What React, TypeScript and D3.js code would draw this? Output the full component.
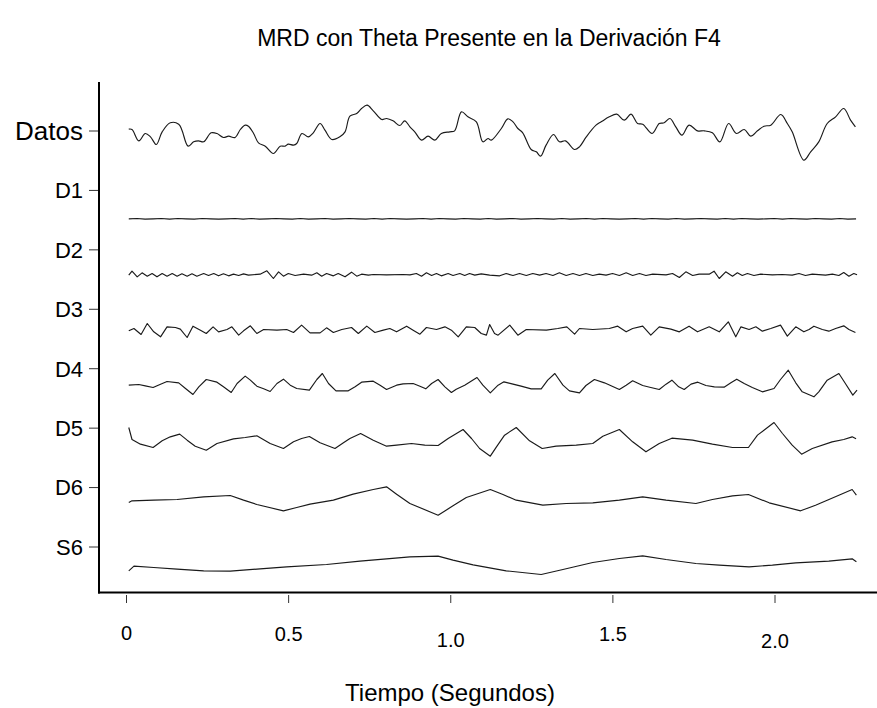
import React from "react";
import * as d3 from "d3";

type P = [number, number];

const channelNames = ["Datos", "D1", "D2", "D3", "D4", "D5", "D6", "S6"];
const xTickValues = [0, 0.5, 1, 1.5, 2];
const xTickLabels = ["0", "0.5", "1.0", "1.5", "2.0"];

// amplitude units (µV-like), time in seconds
const datos: P[] = [
  [0.007,3],[0.017,2],[0.038,-32],[0.058,-10],[0.074,-20],[0.092,-43],[0.110,-5],[0.135,22],[0.161,18],[0.171,0],
  [0.190,-48],[0.207,-35],[0.222,-32],[0.238,-35],[0.261,-8],[0.279,-10],[0.299,-22],[0.315,-18],[0.335,-22],[0.351,2],
  [0.366,15],[0.376,12],[0.392,-10],[0.407,-38],[0.428,-48],[0.453,-70],[0.474,-48],[0.489,-48],[0.499,-42],[0.515,-45],
  [0.525,-40],[0.541,-10],[0.561,-20],[0.576,-8],[0.597,20],[0.612,0],[0.633,-28],[0.658,-20],[0.674,-5],[0.689,42],
  [0.710,50],[0.725,65],[0.742,75],[0.761,58],[0.787,32],[0.802,35],[0.822,28],[0.843,14],[0.858,28],[0.874,10],
  [0.889,-5],[0.910,-30],[0.930,-18],[0.951,-30],[0.971,-10],[0.997,-5],[1.012,-2],[1.033,55],[1.053,40],[1.079,25],
  [1.099,-35],[1.115,-25],[1.125,-30],
  [1.156,5],[1.176,34],[1.192,25],[1.207,5],[1.222,-8],[1.248,-58],[1.264,-65],[1.277,-78],[1.294,-45],[1.317,-13],
  [1.335,-35],[1.354,-32],[1.382,-58],[1.397,-50],[1.418,-20],[1.448,15],[1.464,25],[1.489,40],[1.512,48],[1.535,30],
  [1.556,48],[1.576,20],[1.592,18],[1.621,-10],[1.643,20],[1.658,22],[1.676,35],[1.694,10],[1.713,-15],[1.735,15],
  [1.761,-2],[1.782,-2],[1.807,-8],[1.830,-35],[1.857,20],[1.881,-10],[1.905,2],[1.925,-18],[1.946,-2],[1.966,12],
  [1.987,15],[2.018,47],[2.038,20],[2.053,-5],[2.089,-90],[2.110,-65],[2.135,-35],[2.161,20],[2.187,40],[2.212,65],
  [2.233,30],[2.248,10],
];

// D1: uniformly sampled, very small amplitude
const d1Values = [
  0,1,-1,0,1,-1,1,0,-1,1,0,-1,0,1,-1,1,-1,0,1,0,-1,1,-1,0,1,-1,0,1,0,-1,
  1,-1,1,0,-1,0,1,-1,1,0,-1,1,0,-1,1,-1,0,1,-1,0,1,0,-1,1,-1,0,1,-1,1,0,
  -1,0,1,-1,1,0,-1,1,-1,0,1,0,-1,1,-1,1,0,-1,0,1,-1,1,0,-1,1,0,-1,1,-1,0,
];
const d1Span: [number, number] = [0.007, 2.25];

const d2: P[] = [
  [0.007,-3],[0.017,9],[0.033,-8],[0.048,4],[0.064,-6],[0.079,2],[0.094,-8],[0.110,2],[0.125,-6],[0.141,2],
  [0.156,-6],[0.171,1],[0.187,-6],[0.202,1],[0.217,-6],[0.238,2],[0.253,-4],[0.269,2],[0.284,-5],[0.299,1],
  [0.315,-5],[0.330,0],[0.346,-4],[0.361,1],[0.376,-3],[0.412,0],[0.433,10],[0.453,-13],[0.469,7],[0.484,-6],
  [0.499,2],[0.520,-4],[0.546,0],[0.571,-3],[0.587,4],[0.602,-6],[0.617,2],[0.638,-5],[0.653,2],[0.674,-8],
  [0.694,6],[0.710,-6],[0.725,0],[0.746,-3],[0.761,-1],[0.802,-2],[0.853,-1],[0.874,-2],[0.894,2],[0.910,-6],
  [0.925,4],[0.941,-4],[0.956,2],[0.971,-5],[0.992,2],[1.007,-4],[1.028,2],[1.043,-4],[1.058,2],[1.074,-3],
  [1.094,1],[1.120,-3],[1.151,-5],[1.171,2],[1.192,-4],[1.212,2],[1.233,-4],[1.253,2],[1.274,-3],[1.294,2],
  [1.315,-4],[1.335,4],[1.356,-4],[1.377,2],[1.397,-4],[1.417,2],[1.438,-4],[1.458,0],[1.479,-3],[1.499,2],
  [1.520,-4],[1.541,4],[1.561,-4],[1.582,2],[1.602,-4],[1.623,0],[1.664,-2],[1.684,2],[1.705,-10],[1.725,7],
  [1.746,-4],[1.766,0],[1.797,0],[1.812,9],[1.828,-13],[1.848,7],[1.869,-6],[1.884,4],[1.899,-4],[1.915,2],
  [1.935,-4],[1.956,0],[1.992,-2],[2.022,-1],[2.053,-3],[2.074,2],[2.094,-4],[2.115,0],[2.156,-3],[2.177,0],
  [2.197,-4],[2.212,5],[2.228,-6],[2.243,2],[2.253,-2],
];

const d3s: P[] = [
  [0.007,-2],[0.023,5],[0.045,-13],[0.064,20],[0.084,-5],[0.105,-20],[0.125,10],[0.151,8],[0.166,3],[0.187,-22],
  [0.205,12],[0.228,0],[0.246,-10],[0.267,10],[0.284,-5],[0.310,2],[0.325,10],[0.346,-15],[0.361,-2],[0.382,13],
  [0.402,-10],[0.423,2],[0.464,0],[0.494,2],[0.515,-7],[0.540,15],[0.566,-8],[0.597,-8],[0.617,7],[0.638,-7],
  [0.664,2],[0.694,8],[0.715,-10],[0.741,12],[0.766,-7],[0.792,0],[0.812,5],[0.833,-5],[0.864,12],[0.884,0],
  [0.905,-12],[0.925,8],[0.956,2],[0.982,10],[1.002,0],[1.023,-20],[1.048,10],[1.074,8],[1.094,-10],[1.110,-15],
  [1.120,17],[1.135,-10],[1.146,-15],[1.182,15],[1.207,-15],[1.233,2],[1.295,0],[1.330,5],[1.358,10],[1.382,-12],
  [1.397,5],[1.438,2],[1.489,5],[1.515,12],[1.541,-5],[1.561,5],[1.592,12],[1.617,-15],[1.643,10],[1.679,3],
  [1.705,-5],[1.735,12],[1.761,-5],[1.797,10],[1.828,-5],[1.856,25],[1.879,-20],[1.895,10],[1.920,2],[1.941,10],
  [1.961,-3],[1.987,5],[2.017,15],[2.038,-18],[2.064,10],[2.089,-5],[2.105,2],[2.120,12],[2.146,2],[2.166,-3],
  [2.187,5],[2.212,13],[2.228,2],[2.248,-7],
];

const d4: P[] = [
  [0.007,0],[0.038,2],[0.058,-2],[0.082,-7],[0.105,3],[0.125,11],[0.161,7],[0.182,-10],[0.205,-28],[0.223,-5],
  [0.246,17],[0.279,9],[0.299,-5],[0.323,-22],[0.341,5],[0.366,27],[0.382,15],[0.402,-3],[0.423,-11],[0.443,-19],
  [0.464,5],[0.484,18],[0.505,0],[0.525,-10],[0.564,-15],[0.587,17],[0.604,35],[0.623,5],[0.646,-17],[0.684,-17],
  [0.705,-5],[0.725,9],[0.761,12],[0.782,0],[0.802,-13],[0.833,0],[0.853,4],[0.884,5],[0.905,-3],[0.923,-11],
  [0.941,5],[0.961,17],[0.982,-5],[1.002,-22],[1.017,-12],[1.043,0],[1.081,23],[1.099,0],[1.122,-23],
  [1.146,0],[1.164,10],[1.192,3],[1.217,-3],[1.248,-11],[1.279,-11],[1.299,15],[1.321,35],[1.346,0],[1.366,-17],
  [1.397,-23],[1.417,-1],[1.443,17],[1.474,7],[1.520,-13],[1.541,0],[1.561,13],[1.592,-1],[1.617,-7],[1.643,-13],
  [1.664,3],[1.682,15],[1.703,-5],[1.720,-13],[1.741,3],[1.762,9],[1.787,-1],[1.813,-5],[1.843,-6],[1.864,7],
  [1.882,18],[1.905,5],[1.930,-7],[1.961,-20],[1.997,-10],[2.017,17],[2.041,45],[2.064,7],[2.084,-20],[2.120,-35],
  [2.135,-20],[2.161,15],[2.197,35],[2.217,5],[2.240,-30],[2.253,-15],
];

const d5: P[] = [
  [0.007,43],[0.017,7],[0.043,-7],[0.082,-17],[0.110,3],[0.135,15],[0.164,23],[0.187,5],[0.212,-13],[0.246,-25],
  [0.279,-5],[0.330,9],[0.366,13],[0.402,18],[0.443,-5],[0.484,-20],[0.515,0],[0.540,10],[0.564,16],[0.597,-3],
  [0.643,-20],[0.669,-3],[0.689,10],[0.722,25],[0.761,5],[0.802,-13],[0.833,-10],[0.879,-5],[0.920,-10],[0.961,-11],
  [0.992,10],[1.038,37],[1.064,10],[1.089,-20],[1.122,-43],[1.141,-15],[1.166,20],[1.202,43],[1.243,3],[1.282,-20],
  [1.325,-13],[1.387,-10],[1.438,-5],[1.469,17],[1.520,37],[1.561,0],[1.602,-30],[1.643,-5],[1.682,11],[1.746,5],
  [1.807,-7],[1.869,-17],[1.918,-17],[1.946,20],[1.997,58],[2.023,25],[2.053,-10],[2.082,-37],[2.115,-20],[2.176,0],
  [2.212,7],[2.238,15],[2.250,9],
];

const d6: P[] = [
  [0.007,-2],[0.017,3],[0.084,5],[0.156,7],[0.238,15],[0.320,19],[0.361,5],[0.402,-8],[0.484,-27],[0.525,-17],
  [0.566,-7],[0.638,5],[0.699,23],[0.761,37],[0.802,45],[0.833,23],[0.874,-5],[0.961,-40],[1.007,-12],[1.048,13],
  [1.122,37],[1.161,22],[1.202,5],[1.284,-10],[1.356,-5],[1.438,-3],[1.520,5],[1.592,15],[1.664,5],[1.756,-5],
  [1.807,7],[1.869,18],[1.918,22],[1.982,-3],[2.079,-27],[2.125,-10],[2.197,20],[2.238,37],[2.251,20],
];

const s6: P[] = [
  [0.007,-12],[0.023,2],[0.084,-2],[0.156,-7],[0.238,-12],[0.320,-13],[0.412,-6],[0.494,0],[0.617,7],[0.720,17],
  [0.802,24],[0.874,30],[0.961,32],[1.007,20],[1.069,6],[1.171,-12],[1.279,-23],[1.346,-8],[1.438,13],[1.520,25],
  [1.592,33],[1.664,22],[1.756,10],[1.828,5],[1.920,0],[1.992,5],[2.064,12],[2.166,17],[2.238,24],[2.251,15],
];

// baseline of each trace, in the same amplitude units
const traceBaselines = [1387, 1121, 955, 787, 622, 452, 272, 77];

export default function App() {
  const W = 877;
  const H = 708;
  const x = d3.scaleLinear().domain([0, 2]).range([126.5, 775]);
  const y = d3.scaleLinear().domain([0, 1530]).range([592.5, 82.5]);
  const labelY = d3.scalePoint<string>().domain(channelNames).range([131, 547]);

  const d1: P[] = d1Values.map((v, i) => [
    d1Span[0] + (i * (d1Span[1] - d1Span[0])) / (d1Values.length - 1),
    v,
  ]);

  const series: { data: P[]; curve: d3.CurveFactory }[] = [
    { data: datos, curve: d3.curveCatmullRom.alpha(0.5) },
    { data: d1, curve: d3.curveLinear },
    { data: d2, curve: d3.curveLinear },
    { data: d3s, curve: d3.curveLinear },
    { data: d4, curve: d3.curveLinear },
    { data: d5, curve: d3.curveLinear },
    { data: d6, curve: d3.curveLinear },
    { data: s6, curve: d3.curveLinear },
  ];

  const labelDy = [0, 1, 7, 1, 8];
  const font = "Liberation Sans, Arial, sans-serif";

  return (
    <svg
      width={W}
      height={H}
      style={{ position: "absolute", left: 0, top: 0, background: "#fff" }}
      fontFamily={font}
    >
      <rect width={W} height={H} fill="#fff" />
      <text x={489} y={46} textAnchor="middle" fontSize={23} fill="#000">
        MRD con Theta Presente en la Derivación F4
      </text>

      {series.map((s, i) => {
        const line = d3
          .line<P>()
          .x((d) => x(d[0]))
          .y((d) => y(traceBaselines[i] + d[1]))
          .curve(s.curve);
        return (
          <path
            key={i}
            d={line(s.data) || ""}
            fill="none"
            stroke="#1a1a1a"
            strokeWidth={1.15}
            strokeLinejoin="round"
          />
        );
      })}

      {/* axes */}
      <line x1={99} x2={99} y1={82} y2={593.5} stroke="#000" strokeWidth={2} />
      <line x1={98} x2={877} y1={592.5} y2={592.5} stroke="#000" strokeWidth={2} />

      {channelNames.map((n) => (
        <g key={n}>
          <line x1={89} x2={98} y1={labelY(n)} y2={labelY(n)} stroke="#333" strokeWidth={1} />
          <text
            x={83}
            y={labelY(n)}
            dy="0.36em"
            textAnchor="end"
            fontSize={n === "Datos" ? 26 : 22}
            fill="#000"
          >
            {n}
          </text>
        </g>
      ))}

      {xTickValues.map((t, i) => (
        <g key={t}>
          <line x1={x(t)} x2={x(t)} y1={595} y2={603} stroke="#333" strokeWidth={1} />
          <text
            x={x(t)}
            y={633 + labelDy[i]}
            dy="0.36em"
            textAnchor="middle"
            fontSize={20}
            fill="#000"
          >
            {xTickLabels[i]}
          </text>
        </g>
      ))}

      <text x={450} y={692} dy="0.36em" textAnchor="middle" fontSize={24} fill="#000">
        Tiempo (Segundos)
      </text>
    </svg>
  );
}
